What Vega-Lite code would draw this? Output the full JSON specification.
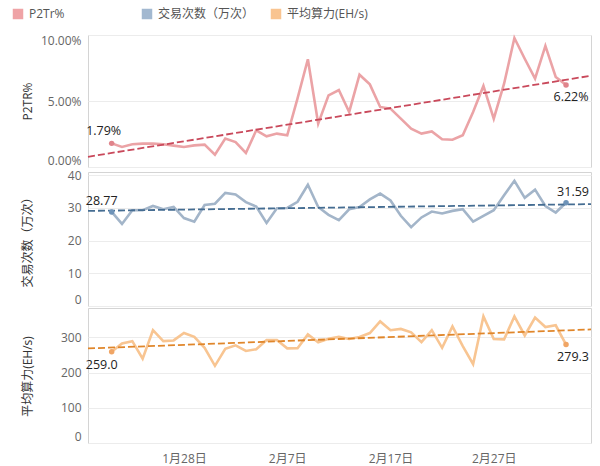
{
  "$schema": "https://vega.github.io/schema/vega-lite/v6.json",
  "padding": {"left": 12, "top": 8, "right": 8, "bottom": 0},
  "data": {
    "format": {"parse": {"date": "utc:'%Y-%m-%d'"}},
    "values": [
      {"date": "2023-01-21", "p2tr": 0.0179, "tx": 28.77, "hash": 259.0},
      {"date": "2023-01-22", "p2tr": 0.0152, "tx": 25.1, "hash": 282.5},
      {"date": "2023-01-23", "p2tr": 0.0172, "tx": 29.3, "hash": 289},
      {"date": "2023-01-24", "p2tr": 0.0177, "tx": 29.3, "hash": 239},
      {"date": "2023-01-25", "p2tr": 0.0177, "tx": 30.6, "hash": 320},
      {"date": "2023-01-26", "p2tr": 0.0172, "tx": 29.6, "hash": 289},
      {"date": "2023-01-27", "p2tr": 0.0162, "tx": 30.3, "hash": 291},
      {"date": "2023-01-28", "p2tr": 0.0152, "tx": 26.9, "hash": 312},
      {"date": "2023-01-29", "p2tr": 0.0164, "tx": 25.8, "hash": 301},
      {"date": "2023-01-30", "p2tr": 0.0169, "tx": 30.9, "hash": 270},
      {"date": "2023-01-31", "p2tr": 0.0093, "tx": 31.3, "hash": 219},
      {"date": "2023-02-01", "p2tr": 0.0215, "tx": 34.6, "hash": 267},
      {"date": "2023-02-02", "p2tr": 0.0189, "tx": 34.1, "hash": 277},
      {"date": "2023-02-03", "p2tr": 0.0106, "tx": 31.8, "hash": 261},
      {"date": "2023-02-04", "p2tr": 0.0278, "tx": 30.4, "hash": 266},
      {"date": "2023-02-05", "p2tr": 0.0232, "tx": 25.4, "hash": 292},
      {"date": "2023-02-06", "p2tr": 0.0253, "tx": 29.9, "hash": 292},
      {"date": "2023-02-07", "p2tr": 0.0240, "tx": 30.0, "hash": 268.5},
      {"date": "2023-02-08", "p2tr": 0.0520, "tx": 31.9, "hash": 269},
      {"date": "2023-02-09", "p2tr": 0.0816, "tx": 37.1, "hash": 308},
      {"date": "2023-02-10", "p2tr": 0.0328, "tx": 30.3, "hash": 286},
      {"date": "2023-02-11", "p2tr": 0.0543, "tx": 27.9, "hash": 295.5},
      {"date": "2023-02-12", "p2tr": 0.0583, "tx": 26.3, "hash": 301},
      {"date": "2023-02-13", "p2tr": 0.0417, "tx": 29.6, "hash": 295},
      {"date": "2023-02-14", "p2tr": 0.0699, "tx": 30.3, "hash": 301},
      {"date": "2023-02-15", "p2tr": 0.0626, "tx": 32.6, "hash": 312},
      {"date": "2023-02-16", "p2tr": 0.0455, "tx": 34.4, "hash": 345},
      {"date": "2023-02-17", "p2tr": 0.0442, "tx": 32.3, "hash": 320},
      {"date": "2023-02-18", "p2tr": 0.0366, "tx": 27.6, "hash": 323.6},
      {"date": "2023-02-19", "p2tr": 0.0290, "tx": 24.1, "hash": 314},
      {"date": "2023-02-20", "p2tr": 0.0253, "tx": 27.1, "hash": 286},
      {"date": "2023-02-21", "p2tr": 0.0270, "tx": 28.9, "hash": 320},
      {"date": "2023-02-22", "p2tr": 0.0210, "tx": 28.3, "hash": 270},
      {"date": "2023-02-23", "p2tr": 0.0207, "tx": 29.1, "hash": 331},
      {"date": "2023-02-24", "p2tr": 0.0240, "tx": 29.6, "hash": 275},
      {"date": "2023-02-25", "p2tr": 0.0417, "tx": 25.8, "hash": 223.6},
      {"date": "2023-02-26", "p2tr": 0.0614, "tx": 27.6, "hash": 359},
      {"date": "2023-02-27", "p2tr": 0.0366, "tx": 29.3, "hash": 295},
      {"date": "2023-02-28", "p2tr": 0.0631, "tx": 33.9, "hash": 294},
      {"date": "2023-03-01", "p2tr": 0.0977, "tx": 38.3, "hash": 359},
      {"date": "2023-03-02", "p2tr": 0.0820, "tx": 33.1, "hash": 305},
      {"date": "2023-03-03", "p2tr": 0.0669, "tx": 35.6, "hash": 356},
      {"date": "2023-03-04", "p2tr": 0.0917, "tx": 30.6, "hash": 329},
      {"date": "2023-03-05", "p2tr": 0.0682, "tx": 28.6, "hash": 334},
      {"date": "2023-03-06", "p2tr": 0.0622, "tx": 31.59, "hash": 279.3}
    ]
  },
  "spacing": 0,
  "resolve": {"scale": {"color": "shared", "x": "shared"}},
  "vconcat": [
    {
      "width": 503,
      "height": 132,
      "encoding": {
        "x": {"field": "date", "type": "temporal", "scale": {"type": "utc", "domain": [1674061200000, 1678269600000]}, "axis": null},
        "y": {"field": "p2tr", "type": "quantitative", "scale": {"domain": [0, 0.1], "nice": false, "zero": true},
              "axis": {"title": "P2TR%", "format": ".2%", "values": [0, 0.05, 0.1], "titleX": -54, "titleY": 66}}
      },
      "layer": [
        {"mark": {"type": "square", "filled": true, "size": 0, "opacity": 0},
         "encoding": {"color": {"datum": "P2Tr%", "type": "nominal",
           "scale": {"domain": ["P2Tr%", "交易次数（万次）", "平均算力(EH/s)"], "range": ["#EFA3A6", "#A2B8D0", "#F9C490"]},
           "legend": {"orient": "none", "legendX": -76, "legendY": -27, "direction": "horizontal", "columns": 3, "gridAlign": "all", "columnPadding": 15, "symbolType": "square", "symbolSize": 110, "symbolOpacity": 1, "symbolStrokeWidth": 0, "labelFontSize": 12, "labelColor": "#555555", "labelOffset": 5, "title": null}}}},
        {"mark": {"type": "line", "strokeWidth": 2.6, "color": "#EBA3A6"}},
        {"transform": [{"regression": "p2tr", "on": "date", "extent": [1674061200000, 1678269600000]}],
         "mark": {"type": "line", "strokeWidth": 1.8, "strokeDash": [7, 3], "color": "#C9495B"}},
        {"transform": [{"filter": "time(datum.date) === utc(2023,0,21) || time(datum.date) === utc(2023,2,6)"}],
         "mark": {"type": "circle", "size": 30, "color": "#E0848B", "opacity": 1}},
        {"transform": [{"filter": "time(datum.date) === utc(2023,0,21)"}],
         "mark": {"type": "text", "dx": -8, "dy": -12, "fontSize": 12.5, "color": "#222222"},
         "encoding": {"text": {"field": "p2tr", "type": "quantitative", "format": ".2%"}}},
        {"transform": [{"filter": "time(datum.date) === utc(2023,2,6)"}],
         "mark": {"type": "text", "dx": 5, "dy": 12, "fontSize": 12.5, "color": "#222222"},
         "encoding": {"text": {"field": "p2tr", "type": "quantitative", "format": ".2%"}}}
      ]
    },
    {
      "width": 503,
      "height": 134,
      "encoding": {
        "x": {"field": "date", "type": "temporal", "axis": null},
        "y": {"field": "tx", "type": "quantitative", "scale": {"domain": [0, 41], "nice": false},
              "axis": {"title": "交易次数（万次）", "values": [0, 10, 20, 30, 40], "titleX": -54, "titleY": 67}}
      },
      "layer": [
        {"mark": {"type": "square", "filled": true, "size": 0, "opacity": 0},
         "encoding": {"color": {"datum": "交易次数（万次）", "type": "nominal"}}},
        {"mark": {"type": "line", "strokeWidth": 2.6, "color": "#A3B5C9"}},
        {"transform": [{"regression": "tx", "on": "date", "extent": [1674061200000, 1678269600000]}],
         "mark": {"type": "line", "strokeWidth": 1.8, "strokeDash": [7, 3], "color": "#456D92"}},
        {"transform": [{"filter": "time(datum.date) === utc(2023,0,21) || time(datum.date) === utc(2023,2,6)"}],
         "mark": {"type": "circle", "size": 30, "color": "#6E93B8", "opacity": 1}},
        {"transform": [{"filter": "time(datum.date) === utc(2023,0,21)"}],
         "mark": {"type": "text", "dx": -10, "dy": -11, "fontSize": 12.5, "color": "#222222"},
         "encoding": {"text": {"field": "tx", "type": "quantitative", "format": ".2f"}}},
        {"transform": [{"filter": "time(datum.date) === utc(2023,2,6)"}],
         "mark": {"type": "text", "dx": 7, "dy": -11, "fontSize": 12.5, "color": "#222222"},
         "encoding": {"text": {"field": "tx", "type": "quantitative", "format": ".2f"}}}
      ]
    },
    {
      "width": 503,
      "height": 135,
      "encoding": {
        "x": {"field": "date", "type": "temporal",
              "axis": {"title": null, "labelExpr": "utcFormat(datum.value, '%-m月%-d日')", "labelPadding": 10,
                       "values": [{"year": 2023, "month": 1, "date": 28, "utc": true}, {"year": 2023, "month": 2, "date": 7, "utc": true}, {"year": 2023, "month": 2, "date": 17, "utc": true}, {"year": 2023, "month": 2, "date": 27, "utc": true}], "grid": false, "labelFlush": false}},
        "y": {"field": "hash", "type": "quantitative", "scale": {"domain": [0, 383], "nice": false},
              "axis": {"title": "平均算力(EH/s)", "values": [0, 100, 200, 300], "titleX": -54, "titleY": 68}}
      },
      "layer": [
        {"mark": {"type": "square", "filled": true, "size": 0, "opacity": 0},
         "encoding": {"color": {"datum": "平均算力(EH/s)", "type": "nominal"}}},
        {"mark": {"type": "line", "strokeWidth": 2.6, "color": "#F8C592"}},
        {"transform": [{"regression": "hash", "on": "date", "extent": [1674061200000, 1678269600000]}],
         "mark": {"type": "line", "strokeWidth": 1.8, "strokeDash": [7, 3], "color": "#E0862A"}},
        {"transform": [{"filter": "time(datum.date) === utc(2023,0,21) || time(datum.date) === utc(2023,2,6)"}],
         "mark": {"type": "circle", "size": 30, "color": "#F0A565", "opacity": 1}},
        {"transform": [{"filter": "time(datum.date) === utc(2023,0,21)"}],
         "mark": {"type": "text", "dx": -10, "dy": 13, "fontSize": 12.5, "color": "#222222"},
         "encoding": {"text": {"field": "hash", "type": "quantitative", "format": ".1f"}}},
        {"transform": [{"filter": "time(datum.date) === utc(2023,2,6)"}],
         "mark": {"type": "text", "dx": 7, "dy": 12, "fontSize": 12.5, "color": "#222222"},
         "encoding": {"text": {"field": "hash", "type": "quantitative", "format": ".1f"}}}
      ]
    }
  ],
  "config": {
    "font": "Open Sans, Noto Sans CJK SC",
    "view": {"stroke": "#d4d4d4"},
    "axis": {"labelFontSize": 12, "labelColor": "#666666", "titleFontSize": 12, "titleFontWeight": "normal", "titleColor": "#333333", "gridColor": "#ececec", "domain": false, "ticks": false, "labelPadding": 7, "labelFlush": true},
    "legend": {"labelFont": "Open Sans, Noto Sans CJK SC"}
  }
}
